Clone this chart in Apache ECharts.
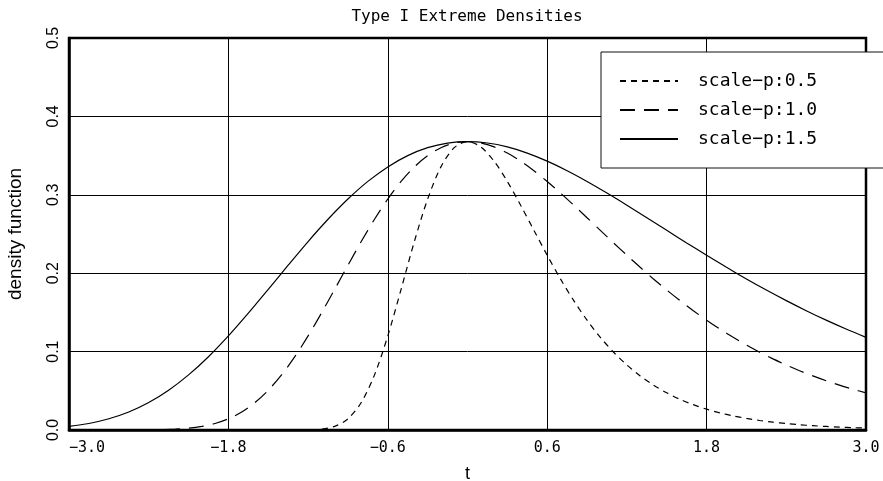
<!DOCTYPE html>
<html><head><meta charset="utf-8">
<script src="https://cdn.jsdelivr.net/npm/echarts@6/dist/echarts.min.js"></script>
<style>html,body{margin:0;padding:0;background:#fff}#c{width:883px;height:481px}</style>
</head><body><div id="c"></div>
<script>
// t grid (step 0.1) used by scale 0.5 and 1.0 curves
const tFine = [-3.0,-2.9,-2.8,-2.7,-2.6,-2.5,-2.4,-2.3,-2.2,-2.1,-2.0,-1.9,-1.8,-1.7,-1.6,-1.5,-1.4,-1.3,-1.2,-1.1,-1.0,-0.9,-0.8,-0.7,-0.6,-0.5,-0.4,-0.3,-0.2,-0.1,0.0,0.1,0.2,0.3,0.4,0.5,0.6,0.7,0.8,0.9,1.0,1.1,1.2,1.3,1.4,1.5,1.6,1.7,1.8,1.9,2.0,2.1,2.2,2.3,2.4,2.5,2.6,2.7,2.8,2.9,3.0];
// t grid (step 0.15) used by scale 1.5 curve
const tCoarse = [-3.00,-2.85,-2.70,-2.55,-2.40,-2.25,-2.10,-1.95,-1.80,-1.65,-1.50,-1.35,-1.20,-1.05,-0.90,-0.75,-0.60,-0.45,-0.30,-0.15,0.00,0.15,0.30,0.45,0.60,0.75,0.90,1.05,1.20,1.35,1.50,1.65,1.80,1.95,2.10,2.25,2.40,2.55,2.70,2.85,3.00];

const dens05 = [0,0,0,0,0,0,0,0,0,0,0,0,0,0,0,0,
  0.0000,0.0000,0.0002,0.0011,0.0046,0.0143,0.0350,0.0703,0.1200,0.1794,0.2404,0.2946,0.3356,0.3601,0.3679,
  0.3611,0.3429,0.3170,0.2867,0.2547,0.2229,0.1927,0.1650,0.1401,0.1182,0.0992,0.0829,0.0690,0.0572,0.0474,
  0.0391,0.0323,0.0266,0.0219,0.0180,0.0148,0.0121,0.0100,0.0082,0.0067,0.0055,0.0045,0.0037,0.0030,0.0025];

const dens10 = [0.0000,0.0000,0.0000,0.0000,0.0000,0.0001,0.0002,0.0005,0.0011,0.0023,0.0046,0.0083,0.0143,0.0229,0.0350,
  0.0507,0.0703,0.0935,0.1200,0.1490,0.1794,0.2102,0.2404,0.2688,0.2946,0.3171,0.3356,0.3500,0.3601,0.3660,0.3679,
  0.3661,0.3611,0.3532,0.3429,0.3307,0.3170,0.3022,0.2867,0.2708,0.2547,0.2386,0.2229,0.2075,0.1927,0.1785,
  0.1650,0.1522,0.1401,0.1288,0.1182,0.1083,0.0992,0.0907,0.0829,0.0756,0.0690,0.0628,0.0572,0.0521,0.0474];

const dens15 = [0.0046,0.0083,0.0143,0.0229,0.0350,0.0507,0.0703,0.0935,0.1200,0.1490,0.1794,0.2102,0.2404,0.2688,0.2946,
  0.3171,0.3356,0.3500,0.3601,0.3660,0.3679,0.3661,0.3611,0.3532,0.3429,0.3307,0.3170,0.3022,0.2867,0.2708,0.2547,
  0.2386,0.2229,0.2075,0.1927,0.1785,0.1650,0.1522,0.1401,0.1288,0.1182];

const seriesNames = ['scale\u2212p:0.5','scale\u2212p:1.0','scale\u2212p:1.5'];
const xTickLabels = ['\u22123.0','\u22121.8','\u22120.6','0.6','1.8','3.0'];
const yTickLabels = ['0.0','0.1','0.2','0.3','0.4','0.5'];
const titleText = 'Type I Extreme Densities';
const xName = 't';
const yName = 'density function';

// axis runs 0..6 internally so that ticks every 1.2 start at the left edge (t = -3)
const X_SHIFT = 3;
function pairs(ts, ys){ return ts.map(function(t,i){ return [t + X_SHIFT, ys[i]]; }); }

const chart = echarts.init(document.getElementById('c'), null, {renderer:'canvas'});
const lineBase = {type:'line', symbol:'none', showSymbol:false, smooth:0.3, animation:false, z:3};
chart.setOption({
  backgroundColor:'#fff',
  animation:false,
  title:{text:titleText, left:467, top:9, padding:0, textAlign:'center',
    textStyle:{fontFamily:'DejaVu Sans Mono', fontSize:16, fontWeight:'normal', color:'#000'}},
  legend:{
    left:601, top:52, orient:'vertical',
    padding:[20,67,20,18],
    itemWidth:58, itemHeight:14, itemGap:11,
    backgroundColor:'#fff', borderColor:'#111', borderWidth:1, borderRadius:0,
    itemStyle:{opacity:0},
    textStyle:{fontFamily:'DejaVu Sans Mono', fontSize:18, color:'#000', padding:[0,0,0,15]},
    data:seriesNames
  },
  grid:{left:69, right:17, top:38, bottom:51, containLabel:false, outerBoundsMode:'none',
    show:true, borderColor:'#000', borderWidth:2.5, backgroundColor:'transparent'},
  xAxis:{type:'value', min:0, max:6, interval:1.2,
    name:xName, nameLocation:'middle', nameGap:35,
    nameTextStyle:{fontFamily:'Liberation Sans', fontSize:18, color:'#000'},
    axisLine:{show:true, onZero:false, lineStyle:{color:'#000', width:2.5}},
    axisTick:{show:false},
    axisLabel:{margin:11, fontFamily:'DejaVu Sans Mono', fontSize:15, color:'#000', alignMinLabel:'left',
      formatter:function(v){ return xTickLabels[Math.round(v/1.2)]; }},
    splitLine:{show:true, lineStyle:{color:'#000', width:1}}
  },
  yAxis:{type:'value', min:0, max:0.5, interval:0.1,
    name:yName, nameLocation:'middle', nameRotate:90, nameGap:44,
    nameTextStyle:{fontFamily:'Liberation Sans', fontSize:19, color:'#000'},
    axisLine:{show:true, lineStyle:{color:'#000', width:2.5}},
    axisTick:{show:false},
    axisLabel:{rotate:90, margin:7, fontFamily:'Liberation Sans', fontSize:16, color:'#000',
      formatter:function(v){ return yTickLabels[Math.round(v/0.1)]; }},
    splitLine:{show:true, lineStyle:{color:'#000', width:1}}
  },
  series:[
    Object.assign({}, lineBase, {name:seriesNames[0], data:pairs(tFine, dens05), lineStyle:{color:'#000', width:1.2, type:[6,5]}, itemStyle:{color:'#000'}}),
    Object.assign({}, lineBase, {name:seriesNames[1], data:pairs(tFine, dens10), lineStyle:{color:'#000', width:1.2, type:[15,9]}, itemStyle:{color:'#000'}}),
    Object.assign({}, lineBase, {name:seriesNames[2], data:pairs(tCoarse, dens15), lineStyle:{color:'#000', width:1.2, type:'solid'}, itemStyle:{color:'#000'}})
  ]
});
</script>
</body></html>
